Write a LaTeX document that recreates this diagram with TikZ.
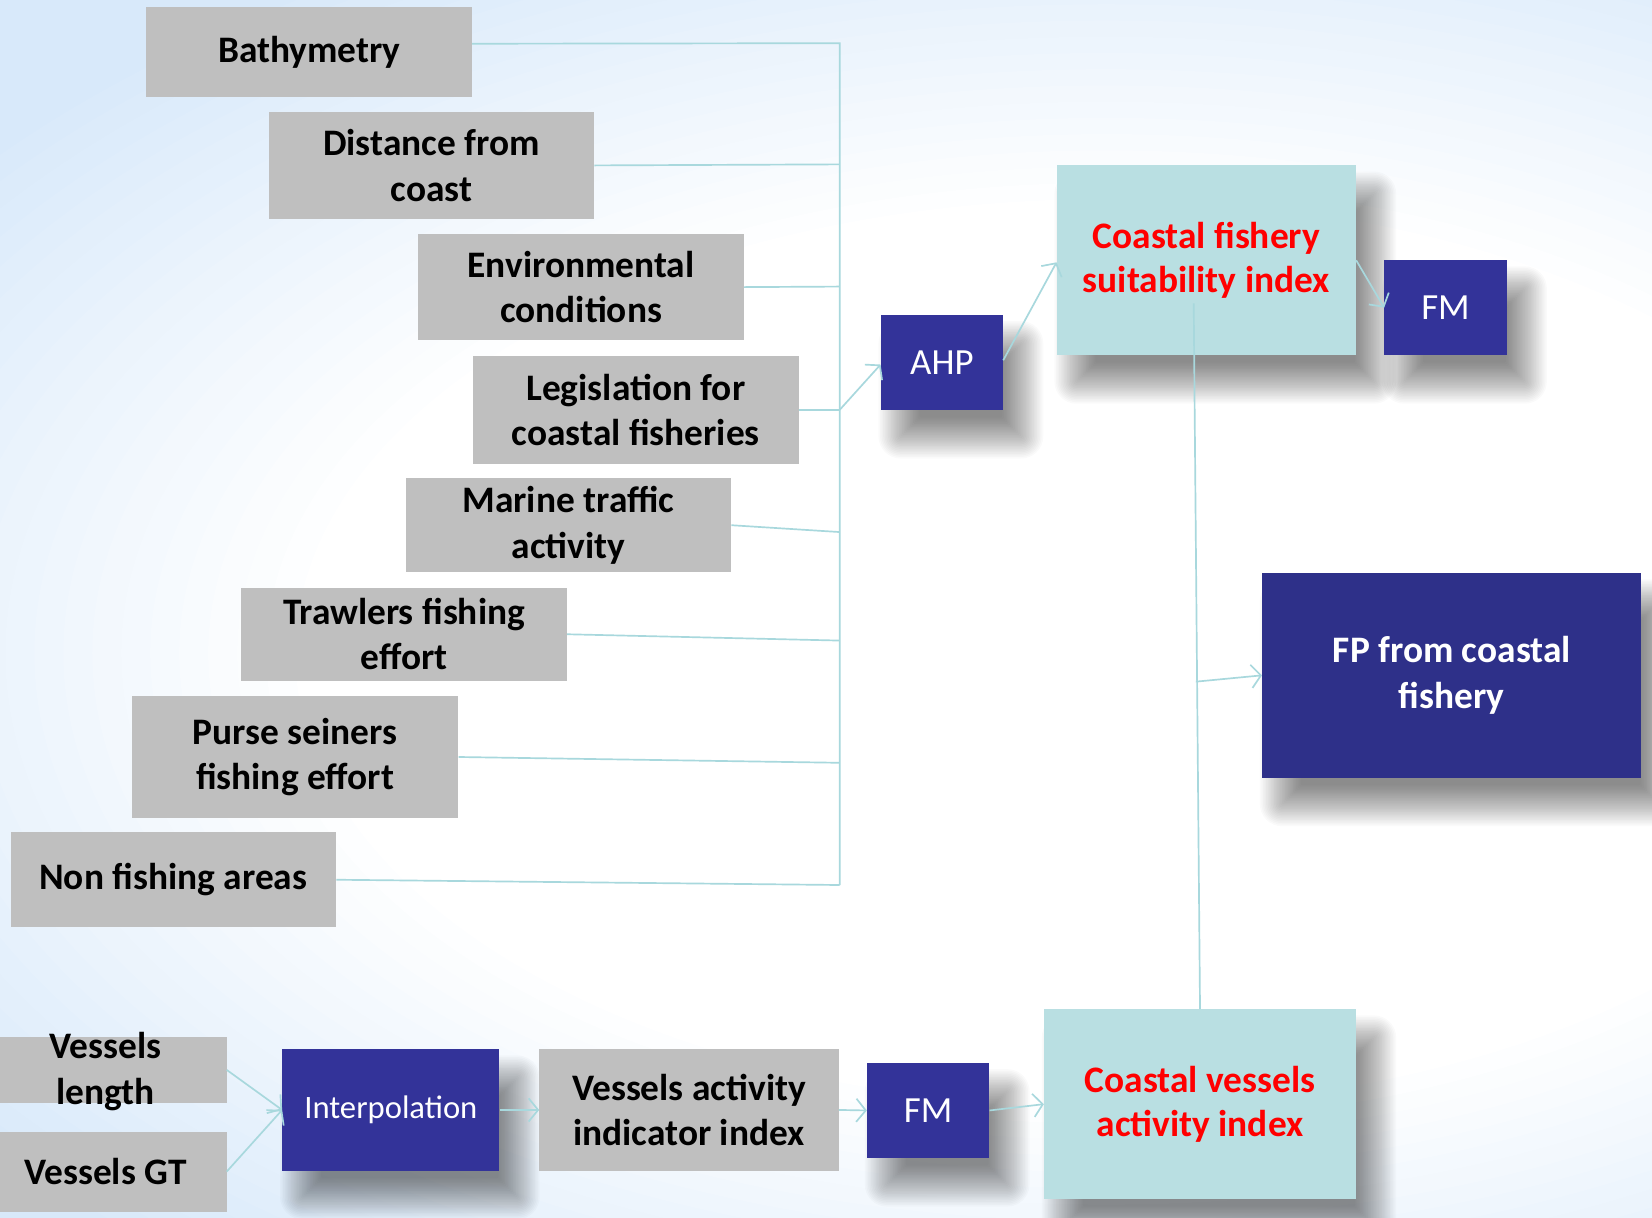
\documentclass[tikz,border=0pt]{standalone}
\usepackage{fontspec}
\setmainfont{Carlito}
\usetikzlibrary{arrows.meta,calc}
\definecolor{bgblue}{RGB}{216,233,250}
\definecolor{boxgray}{RGB}{191,191,191}
\definecolor{boxblue}{RGB}{51,51,153}
\definecolor{fpblue}{RGB}{46,48,137}
\definecolor{boxteal}{RGB}{185,223,226}
\definecolor{conncol}{RGB}{168,216,221}
\pgfdeclarelayer{bglayer}
\pgfdeclarelayer{shadowlayer}
\pgfsetlayers{bglayer,shadowlayer,main}
\newcommand\mkshadow[1]{%
  \begin{pgfonlayer}{shadowlayer}
  \foreach \d in {20,18.5,...,-20}{
    \pgfmathsetmacro\rr{max(\d,0)+1}
    \fill[black, opacity=0.02, rounded corners=\rr pt]
      ($(#1.south west)+(18-\d,26+\d)$) rectangle ($(#1.north east)+(18+\d,26-\d)$);
  }
  \end{pgfonlayer}}
\tikzset{
  gbox/.style={fill=boxgray, inner sep=0pt, align=center, text=black,
    font=\bfseries\fontsize{35.5}{43}\selectfont},
  bbox/.style={fill=boxblue, inner sep=0pt, align=center, text=white,
    font=\fontsize{35}{42}\selectfont},
  tbox/.style={fill=boxteal, inner sep=0pt, align=center, text=red,
    font=\bfseries\fontsize{35.5}{42}\selectfont},
  conn/.style={draw=conncol, line width=1.6pt},
  arr/.style={conn, -{Straight Barb[length=9pt,width=22pt,line width=1.6pt]}},
  lbl/.style={inner sep=0pt, align=center, text=black,
    font=\bfseries\fontsize{35.5}{43}\selectfont}
}
\begin{document}
\begin{tikzpicture}[x=1pt,y=-1pt]
% background
\path[use as bounding box] (0,0) rectangle (1568,1156);
\begin{pgfonlayer}{bglayer}
\begin{scope}
\clip (0,0) rectangle (1568,1156);
\fill[bgblue] (0,0) rectangle (1568,1156);
\foreach \i in {0,...,30}{
  \pgfmathsetmacro\ss{1.1-0.022*\i}
  \pgfmathsetmacro\pc{min(100,\i*100/22)}
  \fill[white!\pc!bgblue] (1050,620) ellipse [x radius=1250*\ss, y radius=700*\ss];
}
\end{scope}
\end{pgfonlayer}

% gray input boxes
\node[gbox, minimum width=309pt, minimum height=85pt] (bath) at (293.5,49.5) {Bathymetry};
\node[gbox, minimum width=309pt, minimum height=102pt] (dist) at (409.5,157) {Distance from\\coast};
\node[gbox, minimum width=309pt, minimum height=101pt] (env) at (551.5,272.5) {Environmental\\conditions};
\node[gbox, minimum width=309pt, minimum height=102pt] (leg) at (603.5,389) {Legislation for\\coastal fisheries};
\node[gbox, minimum width=309pt, minimum height=89pt] (mar) at (539.5,498.5) {Marine traffic\\activity};
\node[gbox, minimum width=309pt, minimum height=88pt] (trw) at (383.5,602) {Trawlers fishing\\effort};
\node[gbox, minimum width=310pt, minimum height=115pt] (pur) at (280,718.5) {Purse seiners\\fishing effort};
\node[gbox, minimum width=309pt, minimum height=90pt] (non) at (164.5,835) {Non fishing areas};

% bottom gray boxes
\node[gbox, minimum width=230pt, minimum height=63pt] (vl) at (100,1015.5) {};
\node[lbl] (vltext) at (100,1017) {Vessels\\length};
\node[gbox, minimum width=230pt, minimum height=76pt] (vgt) at (100,1112) {Vessels GT};
\node[gbox, minimum width=284pt, minimum height=115pt] (vai) at (654,1053.5) {Vessels activity\\indicator index};

% blue boxes
\node[bbox, minimum width=116pt, minimum height=90pt] (ahp) at (894,344) {AHP};
\node[bbox, minimum width=116pt, minimum height=90pt] (fm1) at (1372,292) {FM};
\node[bbox, minimum width=206pt, minimum height=115pt, font=\fontsize{31}{37}\selectfont] (interp) at (371,1053.5) {Interpolation};
\node[bbox, minimum width=116pt, minimum height=90pt] (fm2) at (881,1054) {FM};
\node[bbox, fill=fpblue, minimum width=360pt, minimum height=194pt, font=\bfseries\fontsize{35.5}{43}\selectfont] (fp) at (1378,641) {FP from coastal\\fishery};

% teal boxes
\node[tbox, minimum width=284pt, minimum height=180pt] (cfs) at (1145,247) {Coastal fishery\\suitability index};
\node[tbox, minimum width=296pt, minimum height=180pt] (cva) at (1139,1048) {Coastal vessels\\activity index};

% shadows
\mkshadow{ahp}
\mkshadow{fm1}
\mkshadow{interp}
\mkshadow{fm2}
\mkshadow{fp}
\mkshadow{cfs}
\mkshadow{cva}

% bus junctions
\coordinate (j1) at (797,41);
\coordinate (j2) at (797,156);
\coordinate (j3) at (797,272);
\coordinate (j4) at (797,389);
\coordinate (j5) at (797,505);
\coordinate (j6) at (797,608);
\coordinate (j7) at (797,724);
\coordinate (j8) at (797,840);
\coordinate (vt) at (1133,288);
\coordinate (vj) at (1135,647);

% connectors
\draw[conn] ([yshift=8pt]bath.east) -- (j1) -- (j8);
\draw[conn] (dist.east) -- (j2);
\draw[conn] (env.east) -- (j3);
\draw[conn] (leg.east) -- (j4);
\draw[conn] (mar.east) -- (j5);
\draw[conn] (trw.east) -- (j6);
\draw[conn] (pur.east) -- (j7);
\draw[conn] (non.east) -- (j8);
\draw[arr] (j4) -- ([yshift=-2pt]ahp.west);
\draw[arr] ([yshift=2pt]ahp.east) -- ([yshift=-2pt]cfs.west);
\draw[arr] (cfs.east) -- (fm1.west);
\draw[conn] (vt) -- (cva.north);
\draw[arr] (vj) -- (fp.west);
\draw[arr] (vl.east) -- (interp.west);
\draw[arr] (vgt.east) -- (interp.west);
\draw[arr] (interp.east) -- (vai.west);
\draw[arr] (vai.east) -- (fm2.west);
\draw[arr] (fm2.east) -- (cva.west);
\end{tikzpicture}
\end{document}
